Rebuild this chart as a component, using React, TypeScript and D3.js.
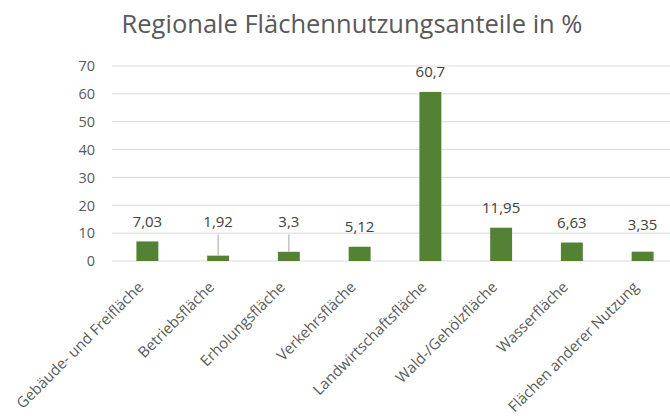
import React from "react";
import * as d3 from "d3";

const categories = [
  "Gebäude- und Freifläche",
  "Betriebsfläche",
  "Erholungsfläche",
  "Verkehrsfläche",
  "Landwirtschaftsfläche",
  "Wald-/Gehölzfläche",
  "Wasserfläche",
  "Flächen anderer Nutzung",
];
const values = [7.03, 1.92, 3.3, 5.12, 60.7, 11.95, 6.63, 3.35];
const valueLabels = ["7,03", "1,92", "3,3", "5,12", "60,7", "11,95", "6,63", "3,35"];
const yTicks = [0, 10, 20, 30, 40, 50, 60, 70];
// indices of labels that Excel moved (with leader lines) to align with the first label
const leaderLabels = [1, 2];

const W = 670;
const H = 416;
const FONT = "'Open Sans', 'Noto Sans', sans-serif";

export default function App() {
  const x = d3.scaleBand<string>().domain(categories).range([112, 678]).paddingInner(0.69).paddingOuter(0.345);
  const y = d3.scaleLinear().domain([0, 70]).range([261, 66]);
  const bw = x.bandwidth();

  const labelY = (i: number) => {
    if (leaderLabels.includes(i)) return y(values[0]) - 20;
    if (i === values.length - 1) return y(values[i]) - 27;
    return y(values[i]) - 20;
  };

  return (
    <svg width={W} height={H} style={{ display: "block", position: "absolute", left: 0, top: 0, background: "#fff" }}>
      <rect width={W} height={H} fill="#fff" />
      <text x={352} y={33} textAnchor="middle" fontFamily={FONT} fontSize={25.5} fill="#595959">
        Regionale Flächennutzungsanteile in %
      </text>
      {yTicks.map((t) => (
        <g key={t}>
          <line x1={112} x2={W} y1={y(t)} y2={y(t)} stroke="#d9d9d9" strokeWidth={1} />
          <text x={95} y={y(t)} dy="0.36em" textAnchor="end" fontFamily={FONT} fontSize={14.5} fill="#595959">
            {t}
          </text>
        </g>
      ))}
      {categories.map((c, i) => {
        const cx = (x(c) as number) + bw / 2;
        const ly = labelY(i);
        return (
          <g key={c}>
            <rect x={x(c)} y={y(values[i])} width={bw} height={y(0) - y(values[i])} fill="#548235" />
            {leaderLabels.includes(i) && (
              <line x1={cx} x2={cx} y1={ly + 13} y2={y(values[i])} stroke="#a6a6a6" strokeWidth={1} />
            )}
            <text x={cx} y={ly} dy="0.36em" textAnchor="middle" fontFamily={FONT} fontSize={15} fill="#404040">
              {valueLabels[i]}
            </text>
            <text
              transform={`translate(${cx - 3},${288}) rotate(-45)`}
              textAnchor="end"
              fontFamily={FONT}
              fontSize={15}
              fill="#595959"
            >
              {c}
            </text>
          </g>
        );
      })}
    </svg>
  );
}
